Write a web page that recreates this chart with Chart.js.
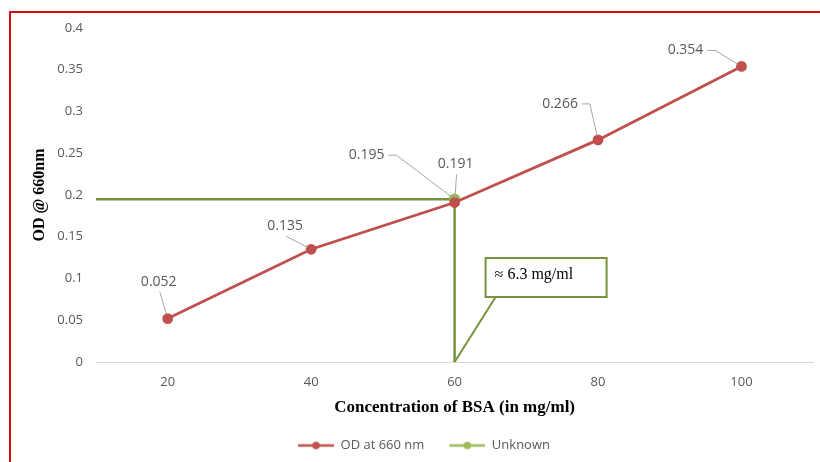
<!DOCTYPE html>
<html>
<head>
<meta charset="utf-8">
<script src="https://cdn.jsdelivr.net/npm/chart.js@4.4.1/dist/chart.umd.min.js"></script>
<style>
  html, body { margin: 0; padding: 0; background: #fff; }
  #wrap { position: relative; width: 820px; height: 462px; }
</style>
</head>
<body>
<div id="wrap"><canvas id="chart"></canvas></div>
<script>
// data
const concentrations = [20, 40, 60, 80, 100];
const odValues = [0.052, 0.135, 0.191, 0.266, 0.354];
const unknownX = [10, 60, 60];
const unknownY = [0.195, 0.195, 0];
const xTicks = [20, 40, 60, 80, 100];
const yTicks = [0, 0.05, 0.1, 0.15, 0.2, 0.25, 0.3, 0.35, 0.4];
const yTickLabels = ['0', '0.05', '0.1', '0.15', '0.2', '0.25', '0.3', '0.35', '0.4'];
const seriesNames = ['OD at 660 nm', 'Unknown'];
const calloutText = '\u2248 6.3 mg/ml';
const calloutAt = [60, 0];

const RED = '#C0504D';
const GREEN = '#77933C';
const LIGHT_GREEN = '#9BBB59';

// label placement (pixel offsets from the point, elbow leader or not)
const odLabelPos = [[-9, -37, false], [-26, -23, false], [1, -38, false], [-38, -36, true], [-56, -16, true]];
const unknownLabelPos = [null, [-88, -44, true], null];

function legendIcon(color) {
  const c = document.createElement('canvas');
  c.width = 58; c.height = 10;
  const g = c.getContext('2d');
  g.strokeStyle = color; g.lineWidth = 2.5;
  g.beginPath(); g.moveTo(22, 5); g.lineTo(58, 5); g.stroke();
  g.fillStyle = color;
  g.beginPath(); g.arc(40, 5, 3.8, 0, Math.PI * 2); g.fill();
  return c;
}
const legendIcons = [legendIcon(RED), legendIcon(LIGHT_GREEN)];

function drawLabels(ctx, meta, values, pos) {
  ctx.font = '14px "Open Sans"';
  ctx.textAlign = 'center';
  ctx.textBaseline = 'middle';
  meta.data.forEach((pt, i) => {
    const p = pos[i];
    if (!p) return;
    const text = values[i].toFixed(3);
    const tx = pt.x + p[0], ty = pt.y + p[1];
    const w = ctx.measureText(text).width;
    ctx.strokeStyle = '#A6A6A6';
    ctx.lineWidth = 1;
    ctx.beginPath();
    let sx, sy;
    if (p[2]) {
      sx = tx + w / 2 + 4; sy = ty;
      ctx.moveTo(sx, sy); sx += 8; ctx.lineTo(sx, sy);
    } else {
      sx = tx + 1; sy = ty + 10;
      ctx.moveTo(sx, sy);
    }
    const dx = pt.x - sx, dy = pt.y - sy, d = Math.hypot(dx, dy);
    ctx.lineTo(pt.x - dx / d * 4, pt.y - dy / d * 4);
    ctx.stroke();
    ctx.fillStyle = '#595959';
    ctx.fillText(text, tx, ty);
  });
}

const extras = {
  id: 'extras',
  beforeDraw(chart) {
    const ctx = chart.ctx;
    ctx.save();
    ctx.strokeStyle = '#D01010';
    ctx.lineWidth = 2;
    ctx.beginPath();
    ctx.moveTo(10, 462); ctx.lineTo(10, 12); ctx.lineTo(820, 12);
    ctx.stroke();
    ctx.restore();
  },
  afterDatasetsDraw(chart) {
    const ctx = chart.ctx;
    ctx.save();
    drawLabels(ctx, chart.getDatasetMeta(0), odValues, odLabelPos);
    drawLabels(ctx, chart.getDatasetMeta(1), unknownY, unknownLabelPos);

    const ax = chart.scales.x.getPixelForValue(calloutAt[0]);
    const ay = chart.scales.y.getPixelForValue(calloutAt[1]);
    const bx = ax + 31, by = ay - 104, bw = 121, bh = 39;
    ctx.strokeStyle = GREEN;
    ctx.lineWidth = 2;
    ctx.beginPath();
    ctx.moveTo(bx + 10, by + bh);
    ctx.lineTo(ax, ay);
    ctx.stroke();
    ctx.fillStyle = '#fff';
    ctx.fillRect(bx, by, bw, bh);
    ctx.strokeRect(bx, by, bw, bh);
    ctx.fillStyle = '#000';
    ctx.font = '16px "Liberation Serif"';
    ctx.textAlign = 'left';
    ctx.textBaseline = 'middle';
    ctx.fillText(calloutText, bx + 9, by + bh / 2 - 3);
    ctx.restore();
  }
};

const ctx = document.getElementById('chart').getContext('2d');
const chart = new Chart(ctx, {
  type: 'line',
  data: {
    datasets: [{
      label: seriesNames[0],
      data: concentrations.map((x, i) => ({ x: x, y: odValues[i] })),
      borderColor: RED,
      backgroundColor: RED,
      borderWidth: 2.8,
      pointRadius: 4,
      pointBackgroundColor: RED,
      pointBorderColor: RED,
      tension: 0
    }, {
      label: seriesNames[1],
      data: unknownX.map((x, i) => ({ x: x, y: unknownY[i] })),
      borderColor: GREEN,
      backgroundColor: LIGHT_GREEN,
      borderWidth: 2.5,
      pointRadius: [0, 4.5, 0],
      pointBackgroundColor: LIGHT_GREEN,
      pointBorderColor: LIGHT_GREEN,
      tension: 0
    }]
  },
  options: {
    responsive: true,
    maintainAspectRatio: false,
    animation: false,
    layout: { padding: { left: 10, top: 28, right: 4, bottom: 0 } },
    scales: {
      x: {
        type: 'linear',
        min: 10,
        max: 110,
        afterBuildTicks: s => { s.ticks = xTicks.map(v => ({ value: v })); },
        afterFit: s => { s.height = 74; },
        grid: { display: false, drawTicks: false },
        border: { display: true, color: '#D9D9D9', width: 1 },
        ticks: {
          padding: 12,
          color: '#595959',
          font: { family: 'Open Sans', size: 13 },
          callback: v => String(v)
        },
        title: {
          display: true,
          text: 'Concentration of BSA (in mg/ml)',
          color: '#000',
          font: { family: 'Liberation Serif', size: 17, weight: 'bold' },
          padding: { top: 0, bottom: 18 }
        }
      },
      y: {
        min: 0,
        max: 0.4,
        afterBuildTicks: s => { s.ticks = yTicks.map(v => ({ value: v })); },
        afterFit: s => { s.width = 86; },
        grid: { display: false, drawTicks: false },
        border: { display: false },
        ticks: {
          padding: 13,
          color: '#595959',
          font: { family: 'Open Sans', size: 13 },
          callback: (v, i) => yTickLabels[i]
        },
        title: {
          display: true,
          text: 'OD @ 660nm',
          color: '#000',
          font: { family: 'Liberation Serif', size: 16, weight: 'bold' },
          padding: { top: 20, bottom: 0 }
        }
      }
    },
    plugins: {
      tooltip: { enabled: false },
      legend: {
        position: 'bottom',
        labels: {
          usePointStyle: true,
          pointStyleWidth: 58,
          boxHeight: 10,
          padding: 3,
          color: '#595959',
          font: { family: 'Open Sans', size: 13 },
          generateLabels: c => c.data.datasets.map((ds, i) => ({
            text: ds.label,
            pointStyle: legendIcons[i],
            fillStyle: ds.borderColor,
            strokeStyle: ds.borderColor,
            fontColor: '#595959',
            lineWidth: 0,
            hidden: false,
            datasetIndex: i
          }))
        }
      }
    }
  },
  plugins: [extras]
});
</script>
</body>
</html>
